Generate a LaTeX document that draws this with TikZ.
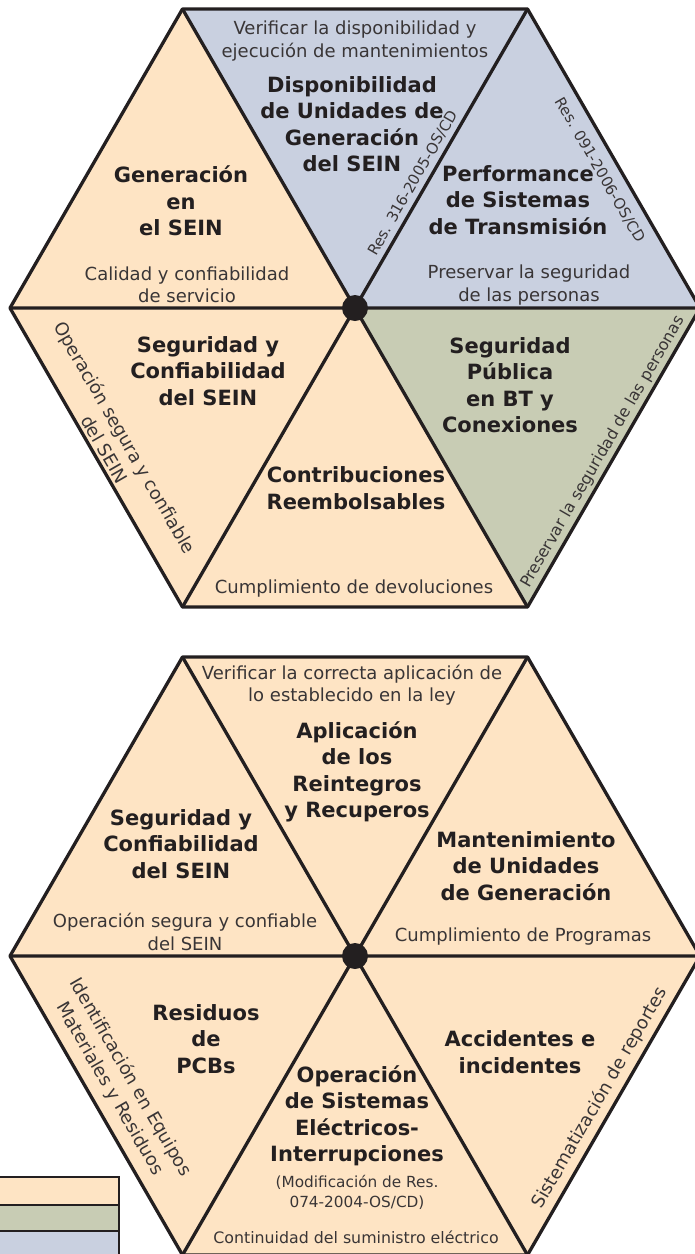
\documentclass[tikz,border=0pt]{standalone}
\usepackage{fontspec}
\setmainfont{DejaVu Sans}
\definecolor{peach}{RGB}{254,228,196}
\definecolor{slate}{RGB}{201,208,224}
\definecolor{sage}{RGB}{200,204,180}
\definecolor{ink}{RGB}{35,31,32}

\begin{document}
\begin{tikzpicture}[x=1pt,y=-1pt,
		edge/.style={draw=ink,line width=3.3pt,line join=round},
		head/.style={font=\fontsize{21}{26.5}\selectfont\bfseries,text=ink,align=center,inner sep=0pt},
		note/.style={font=\fontsize{18}{22.5}\selectfont,text=ink!90,align=center,inner sep=0pt},
		side note/.style={note,font=\fontsize{18}{23.5}\selectfont},
		res note/.style={note,font=\fontsize{15}{18}\selectfont}]
	\useasboundingbox (0,0) rectangle (695,1254);

	\coordinate (c1) at (355,308);
	\coordinate (l1) at (10,308);
	\coordinate (r1) at (700,308);
	\coordinate (tl1) at (182.5,9);
	\coordinate (tr1) at (527.5,9);
	\coordinate (bl1) at (182.5,607);
	\coordinate (br1) at (527.5,607);

	\coordinate (c2) at (355,956);
	\coordinate (l2) at (10,956);
	\coordinate (r2) at (700,956);
	\coordinate (tl2) at (182.5,657);
	\coordinate (tr2) at (527.5,657);
	\coordinate (bl2) at (182.5,1255);
	\coordinate (br2) at (527.5,1255);

	\fill[peach] (c1) -- (l1) -- (tl1) -- cycle;
	\fill[slate] (c1) -- (tl1) -- (tr1) -- (r1) -- cycle;
	\fill[sage] (c1) -- (r1) -- (br1) -- cycle;
	\fill[peach] (c1) -- (br1) -- (bl1) -- (l1) -- cycle;
	\draw[edge] (l1) -- (tl1) -- (tr1) -- (r1) -- (br1) -- (bl1) -- cycle;
	\draw[edge] (l1) -- (r1) (tl1) -- (br1) (tr1) -- (bl1);
	\fill[ink] (c1) circle (13pt);

	\fill[peach] (l2) -- (tl2) -- (tr2) -- (r2) -- (br2) -- (bl2) -- cycle;
	\draw[edge] (l2) -- (tl2) -- (tr2) -- (r2) -- (br2) -- (bl2) -- cycle;
	\draw[edge] (l2) -- (r2) (tl2) -- (br2) (tr2) -- (bl2);
	\fill[ink] (c2) circle (13pt);

	\fill[peach] (-5,1177) rectangle (119,1205);
	\fill[sage] (-5,1205) rectangle (119,1231);
	\fill[slate] (-5,1231) rectangle (119,1260);
	\draw[ink,line width=1.2pt] (-5,1205) -- (119,1205) (-5,1231) -- (119,1231);
	\draw[ink,line width=2pt] (-5,1177) -- (119,1177) -- (119,1260);

	\node[note] (verif1) at (355,41) {Verificar la disponibilidad y\\ejecución de mantenimientos};
	\node[head] (disp) at (352,124) {Disponibilidad\\de Unidades de\\Generación\\del SEIN};
	\node[res note,rotate=60] (res1) at (413,183) {Res. 316-2005-OS/CD};
	\node[head] (gen) at (181,201) {Generación\\en\\el SEIN};
	\node[note] (calidad) at (187,285) {Calidad y confiabilidad\\de servicio};
	\node[head] (perf) at (518,200) {Performance\\de Sistemas\\de Transmisión};
	\node[note] (pres1) at (529,285) {Preservar la seguridad\\de las personas};
	\node[res note,rotate=-60] (res2) at (600,170) {Res. 091-2006-OS/CD};
	\node[head] (segpub) at (510,385) {Seguridad\\Pública\\en BT y\\Conexiones};
	\node[note,font=\fontsize{16}{20}\selectfont,rotate=60] (pres2) at (603,452) {Preservar la seguridad de las personas};
	\node[head] (contrib) at (356,488) {Contribuciones\\Reembolsables};
	\node[note] (cumpl1) at (354,589) {Cumplimiento de devoluciones};
	\node[head] (segconf1) at (208,371) {Seguridad y\\Confiabilidad\\del SEIN};
	\node[side note,rotate=-60] (oper1) at (115,443) {Operación segura y confiable\\del SEIN};

	\node[note] (verif2) at (352,685) {Verificar la correcta aplicación de\\lo establecido en la ley};
	\node[head] (aplic) at (357,772) {Aplicación\\de los\\Reintegros\\y Recuperos};
	\node[head] (segconf2) at (181,844) {Seguridad y\\Confiabilidad\\del SEIN};
	\node[note] (oper2) at (185,932) {Operación segura y confiable\\del SEIN};
	\node[head] (mant) at (526,866) {Mantenimiento\\de Unidades\\de Generación};
	\node[note] (cumpl2) at (523,937) {Cumplimiento de Programas};
	\node[head] (resid) at (206,1039) {Residuos\\de\\PCBs};
	\node[side note,rotate=-60] (ident) at (120,1083) {Identificación en Equipos\\Materiales y Residuos};
	\node[head] (accid) at (520,1052) {Accidentes e\\incidentes};
	\node[note,rotate=60] (sistem) at (600,1098) {Sistematización de reportes};
	\node[head] (operac) at (357,1116) {Operación\\de Sistemas\\Eléctricos-\\Interrupciones};
	\node[note,font=\fontsize{15.3}{20}\selectfont] (modif) at (357,1192) {(Modificación de Res.\\074-2004-OS/CD)};
	\node[note,font=\fontsize{15.8}{20}\selectfont] (contin) at (356,1237) {Continuidad del suministro eléctrico};
\end{tikzpicture}
\end{document}
